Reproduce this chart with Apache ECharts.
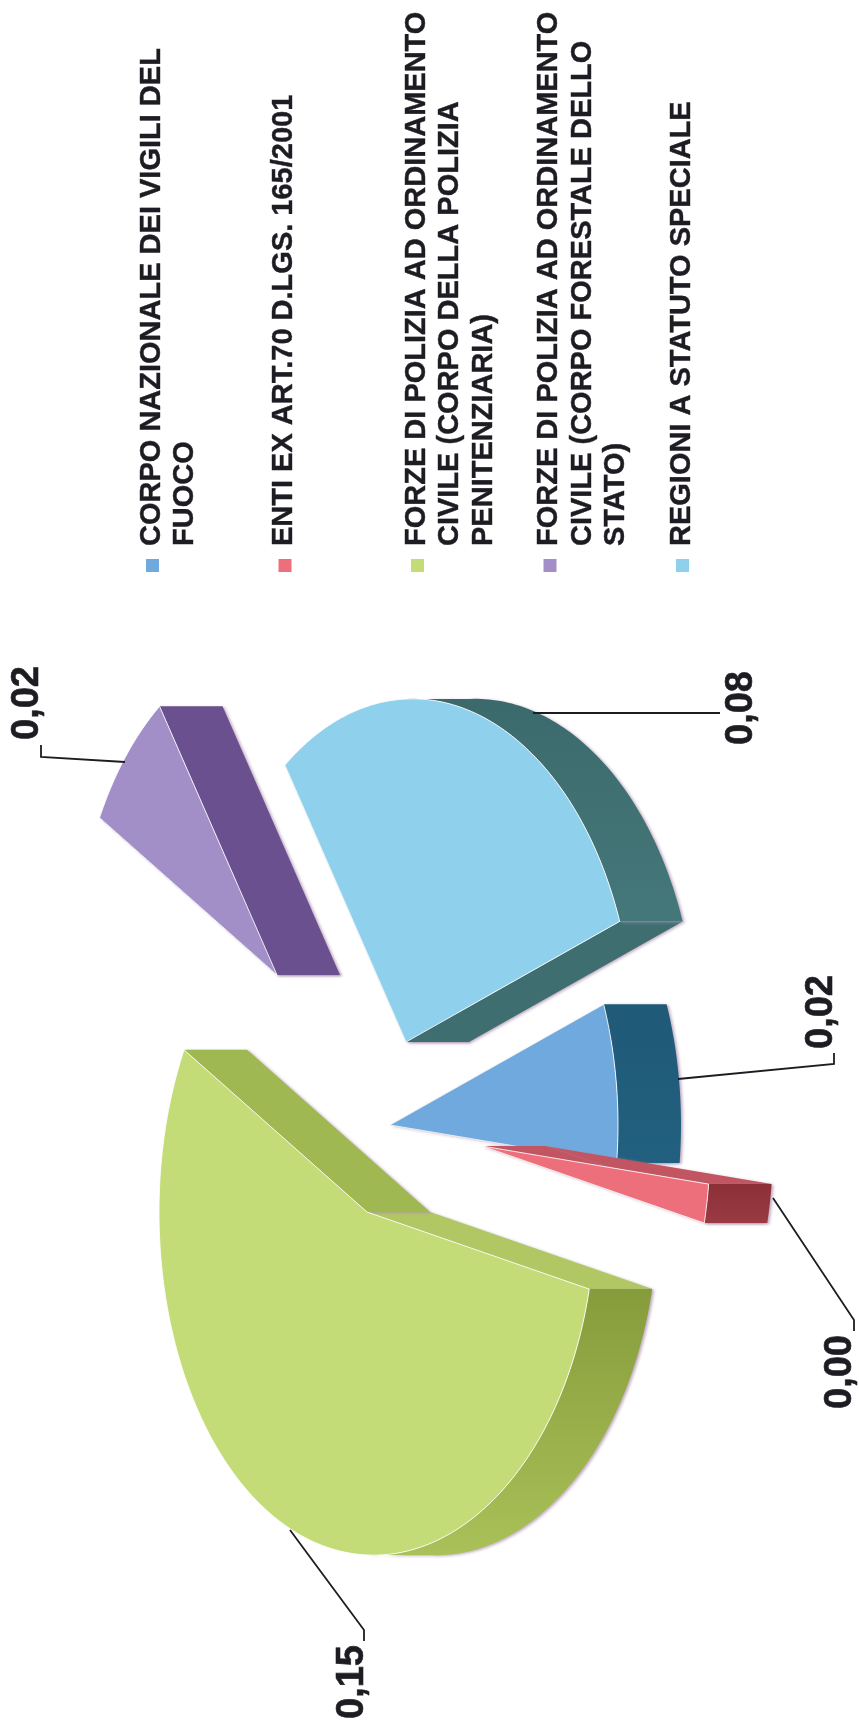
<!DOCTYPE html>
<html>
<head>
<meta charset="utf-8">
<style>
  html, body { margin: 0; padding: 0; background: #fff; }
  #chart { width: 859px; height: 1721px; }
</style>
<script src="https://cdn.jsdelivr.net/npm/echarts@6/dist/echarts.min.js"></script>
</head>
<body>
<div id="chart"></div>
<script>
// dati (0,00 e' un valore piccolo arrotondato)
var categories = [
  'CORPO NAZIONALE DEI VIGILI DEL\nFUOCO',
  'ENTI EX ART.70 D.LGS. 165/2001',
  'FORZE DI POLIZIA AD ORDINAMENTO\nCIVILE (CORPO DELLA POLIZIA\nPENITENZIARIA)',
  'FORZE DI POLIZIA AD ORDINAMENTO\nCIVILE (CORPO FORESTALE DELLO\nSTATO)',
  'REGIONI A STATUTO SPECIALE'
];
var values = [0.02, 0.0049, 0.15, 0.02, 0.08];

// colori: faccia superiore, lato curvo (chiaro/scuro), lato iniziale, lato finale
var topColors = ['#6fa9de', '#ee6f7c', '#c4dc78', '#a28fc8', '#8fd0ec'];
var arcLight = ['#22607f', '#9a3a42', '#a9c158', '#70568f', '#44787a'];
var arcDark = ['#1f5a78', '#8c3038', '#869c3c', '#6b5090', '#3c6a6c'];
var startSideColors = ['#1f5a78', '#c25562', '#b0c763', '#6b5090', '#3f6e70'];
var endSideColors = ['#1f5a78', '#c25562', '#a0b852', '#6b5090', '#3f6e70'];

// layout: il grafico e' disegnato in orizzontale, poi ruotato di 90 gradi
var pageH = 1721;
var rx = 343, ry = 218, bulge = 10, depth = 63, persp = 0.03;
var startAngle = 70;
var apexes = [[596, 390], [575, 482], [509, 367], [746, 277], [679, 406]];
var radiusScale = [1, 1, 1, 0.97, 1];
var labelPos = [[709, 822], [349, 841], [39, 353], [1018, 28], [1013, 742]];
var leaders = [
  [[642, 678], [657, 834], [668, 834]],
  [[523, 773], [401, 854], [390, 854]],
  [[191, 290], [91, 364], [80, 364]],
  [[959, 125], [964, 41], [976, 41]],
  [[1008, 533], [1008, 720]]
];
var inkColor = '#1c1c22';
var shadow = { shadowColor: 'rgba(170,140,170,0.7)', shadowBlur: 3, shadowOffsetX: 2, shadowOffsetY: 1 };

var total = values.reduce(function (a, b) { return a + b; }, 0);

function ellipsePoint(apex, k, deg, dy) {
  var t = deg * Math.PI / 180;
  var s = Math.sin(t);
  return [
    apex[0] + k * rx * Math.cos(t) * (1 + persp * s),
    apex[1] + k * (ry * s + bulge * s * s) + (dy || 0)
  ];
}

function renderSlice(params, api) {
  var i = params.dataIndex;
  var from = startAngle;
  for (var j = 0; j < i; j++) from += values[j] / total * 360;
  var to = from + api.value(0) / total * 360;
  var apex = apexes[i], k = radiusScale[i];

  var topPts = [apex], arcTop = [], arcBottom = [];
  for (var a = from; a <= to + 0.01; a += Math.min(1, Math.max(to - a, 0.02))) {
    topPts.push(ellipsePoint(apex, k, a));
    // solo la parte anteriore dell'arco e' visibile
    if (Math.sin(a * Math.PI / 180) >= 0) {
      arcTop.push(ellipsePoint(apex, k, a));
      arcBottom.unshift(ellipsePoint(apex, k, a, depth));
    }
  }

  function sideFace(p, color) {
    return {
      type: 'polygon',
      shape: { points: [apex, p, [p[0], p[1] + depth], [apex[0], apex[1] + depth]] },
      style: Object.assign({ fill: color }, shadow)
    };
  }

  var children = [
    sideFace(ellipsePoint(apex, k, from), startSideColors[i]),
    sideFace(ellipsePoint(apex, k, to), endSideColors[i])
  ];
  if (arcTop.length > 1) {
    children.push({
      type: 'polygon',
      shape: { points: arcTop.concat(arcBottom) },
      style: Object.assign({
        fill: new echarts.graphic.LinearGradient(0, 0, 1, 0, [
          { offset: 0, color: arcLight[i] },
          { offset: 1, color: arcDark[i] }
        ])
      }, shadow)
    });
  }
  children.push({
    type: 'polygon',
    shape: { points: topPts },
    style: { fill: topColors[i], stroke: 'rgba(255,255,255,0.85)', lineWidth: 1 }
  });
  children.push({
    type: 'polyline',
    shape: { points: leaders[i] },
    style: { fill: null, stroke: inkColor, lineWidth: 1.8 }
  });
  children.push({
    type: 'text',
    style: {
      x: labelPos[i][0], y: labelPos[i][1],
      text: api.value(0).toFixed(2).replace('.', ','),
      font: 'bold 38px "Liberation Sans", Arial, sans-serif',
      fill: inkColor, stroke: inkColor, lineWidth: 0.6,
      align: 'center', verticalAlign: 'middle'
    }
  });
  return { type: 'group', rotation: Math.PI / 2, x: 0, y: pageH, children: children };
}

var legendItems = [];
categories.forEach(function (name, i) {
  var lineY = 152 + i * 132.5;
  legendItems.push({
    type: 'rect',
    shape: { x: 1149, y: lineY - 6, width: 13, height: 13 },
    style: { fill: topColors[i] }
  });
  legendItems.push({
    type: 'text',
    style: {
      x: 1175, y: lineY - 17, text: name, lineHeight: 33.5,
      font: 'bold 29px "Liberation Sans", Arial, sans-serif',
      fill: inkColor, stroke: inkColor, lineWidth: 0.4,
      align: 'left', verticalAlign: 'top'
    }
  });
});

var chart = echarts.init(document.getElementById('chart'));
chart.setOption({
  animation: false,
  backgroundColor: '#ffffff',
  graphic: [{ type: 'group', rotation: Math.PI / 2, x: 0, y: pageH, children: legendItems }],
  series: [{
    type: 'custom',
    coordinateSystem: 'none',
    data: values,
    renderItem: renderSlice
  }]
});
</script>
</body>
</html>
